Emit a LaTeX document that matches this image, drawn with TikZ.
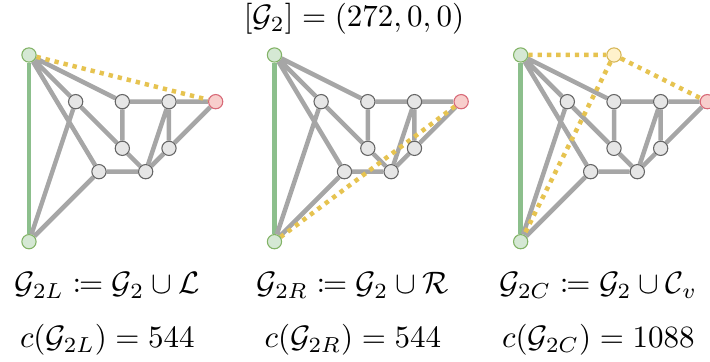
\documentclass[tikz,border=0pt]{standalone}
\usepackage{mathtools}
\usetikzlibrary{backgrounds}
\definecolor{egray}{HTML}{A6A6A6}
\definecolor{vfill}{HTML}{E6E6E6}
\definecolor{vdraw}{HTML}{666666}
\definecolor{gfill}{HTML}{D5E8D4}
\definecolor{gdraw}{HTML}{82B366}
\definecolor{gline}{HTML}{8CBF8C}
\definecolor{rfill}{HTML}{F8CECC}
\definecolor{rdraw}{HTML}{D86A78}
\definecolor{yfill}{HTML}{FFF2CC}
\definecolor{ydraw}{HTML}{D6B656}
\definecolor{ydot}{HTML}{E6C350}
\begin{document}
\begin{tikzpicture}[x=15.05pt,y=15.05pt,
  vx/.style={circle,inner sep=0pt,minimum size=4.6pt,line width=.35pt,draw=vdraw,fill=vfill},
  src/.style={vx,draw=gdraw,fill=gfill}, snk/.style={vx,draw=rdraw,fill=rfill}, mid/.style={vx,draw=ydraw,fill=yfill},
  edge/.style={line width=1.45pt,draw=egray}, lside/.style={line width=1.45pt,draw=gline},
  cut/.style={line width=1.45pt,draw=ydot,dash pattern=on 1.4pt off 1.6pt}]
\useasboundingbox (-.621,-6.557) rectangle (14.592,1.178);
\foreach \g/\dx in {l/0,r/5.26,c/10.535}{
\begin{scope}[shift={(\dx,0)}]
\node[src] (\g t) at (0,0) {}; \node[src] (\g b) at (0,-4) {}; \node[snk] (\g s) at (4,-1) {};
\node[vx] (\g 1) at (1,-1) {}; \node[vx] (\g 2) at (2,-1) {}; \node[vx] (\g 3) at (3,-1) {};
\node[vx] (\g 4) at (2,-2) {}; \node[vx] (\g 5) at (3,-2) {};
\node[vx] (\g 6) at (1.5,-2.5) {}; \node[vx] (\g 7) at (2.5,-2.5) {};
\begin{pgfonlayer}{background}
\draw[lside] (\g t)--(\g b);
\draw[edge] (\g t)--(\g 1) (\g t)--(\g 2) (\g t)--(\g 6) (\g b)--(\g 1) (\g b)--(\g 6) (\g 1)--(\g 4);
\draw[edge] (\g 2)--(\g 3) (\g 3)--(\g s) (\g 2)--(\g 4) (\g 4)--(\g 7) (\g 3)--(\g 7) (\g 3)--(\g 5);
\draw[edge] (\g 5)--(\g 7) (\g 5)--(\g s) (\g 6)--(\g 7);
\end{pgfonlayer}
\end{scope}
}
\node[mid] (cm) at (12.535,0) {};
\begin{pgfonlayer}{background}
\draw[cut] (lt)--(ls); \draw[cut] (rs)--(rb);
\draw[cut] (ct)--(cm) (cm)--(cs) (cm)--(cb);
\end{pgfonlayer}
\node[anchor=base] (head) at (6.964,.6) {$[\mathcal{G}_2]=(272,0,0)$};
\node[anchor=base] (ldef) at (1.68,-5.11) {$\mathcal{G}_{2L}\coloneqq\mathcal{G}_2\cup\mathcal{L}$};
\node[anchor=base] (lval) at (1.68,-6.267) {$c(\mathcal{G}_{2L})=544$};
\node[anchor=base] (rdef) at (6.94,-5.11) {$\mathcal{G}_{2R}\coloneqq\mathcal{G}_2\cup\mathcal{R}$};
\node[anchor=base] (rval) at (6.94,-6.267) {$c(\mathcal{G}_{2R})=544$};
\node[anchor=base] (cdef) at (12.2,-5.11) {$\mathcal{G}_{2C}\coloneqq\mathcal{G}_2\cup\mathcal{C}_v$};
\node[anchor=base] (cval) at (12.2,-6.267) {$c(\mathcal{G}_{2C})=1088$};
\end{tikzpicture}
\end{document}
